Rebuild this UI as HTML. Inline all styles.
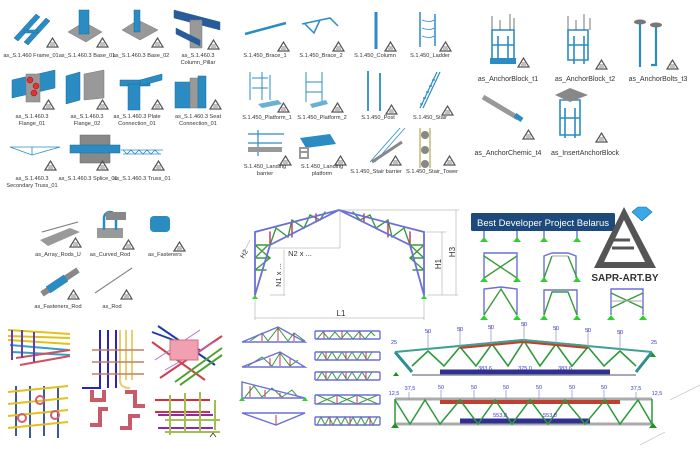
<!DOCTYPE html>
<html><head><meta charset="utf-8"><style>
html,body{margin:0;padding:0;background:#fff;width:700px;height:449px;overflow:hidden}
svg{display:block}
text{font-family:"Liberation Sans",sans-serif}
.l{font-size:5.6px;fill:#333;text-anchor:middle}
.n{font-size:5.5px;fill:#3838d0;text-anchor:middle}
</style></head><body>
<svg width="700" height="449" viewBox="0 0 700 449" xmlns="http://www.w3.org/2000/svg">
<defs>
<g id="tri"><path d="M0 9 L5.5 0 L11 9 Z" fill="none" stroke="#555" stroke-width="1.2"/><path d="M3.5 5 h4 M3 7 h5" stroke="#555" stroke-width="0.8"/></g>
</defs>
<!-- TOP LEFT GRID -->
<g fill="#2b8cc4" stroke="#1b6a9a" stroke-width="0.5">
<path d="M14 38 L36 14 L40 17 L18 41Z"/><path d="M24 42 L46 18 L50 21 L28 45Z"/><path d="M24 30 h14 v3 h-14z"/>
<path d="M68 32 L84 22 L102 32 L86 42Z" fill="#999" stroke="#777"/><rect x="79" y="10" width="10" height="24"/>
<path d="M122 30 L138 20 L158 30 L140 40Z" fill="#999" stroke="#777"/><rect x="134" y="10" width="6" height="22"/>
<path d="M174 10 L220 22 L220 30 L174 18Z" fill="#2a5a9a"/><rect x="190" y="20" width="12" height="28" fill="#999" stroke="#777"/><path d="M176 28 L200 40 L200 46 L176 34Z" fill="#2a5a9a"/>
<path d="M12 80 L55 70 L55 88 L12 98Z"/><rect x="26" y="74" width="14" height="28" fill="#999" stroke="#777"/>
<circle cx="30" cy="80" r="3" fill="#d33" stroke="#a00"/><circle cx="36" cy="86" r="3" fill="#d33" stroke="#a00"/><circle cx="34" cy="93" r="3" fill="#d33" stroke="#a00"/>
<path d="M66 76 L80 72 L80 100 L66 104Z"/><path d="M84 74 L104 70 L104 98 L84 100Z" fill="#999" stroke="#777"/>
<rect x="120" y="80" width="30" height="6"/><rect x="128" y="84" width="12" height="26"/><path d="M140 80 L162 74 L162 80 L140 86Z"/>
<rect x="175" y="82" width="16" height="26"/><rect x="190" y="78" width="8" height="30" fill="#999" stroke="#777"/><rect x="198" y="76" width="8" height="32"/>
<rect x="80" y="135" width="30" height="28" fill="#888" stroke="#666"/><rect x="70" y="145" width="50" height="8"/>
</g>
<g stroke="#2b8cc4" fill="none" stroke-width="0.8">
<path d="M10 147 h50 M10 147 L32 155 L60 147 M32 147 v8"/>
<path d="M121 150 h42 M123 154 h38 M123 150 l4 4 l4-4 l4 4 l4-4 l4 4 l4-4 l4 4 l4-4 l4 4"/>
</g>
<use href="#tri" x="47" y="38"/><use href="#tri" x="97" y="38"/><use href="#tri" x="152" y="38"/><use href="#tri" x="208" y="40"/>
<use href="#tri" x="43" y="100"/><use href="#tri" x="97" y="100"/><use href="#tri" x="152" y="100"/><use href="#tri" x="210" y="100"/>
<use href="#tri" x="45" y="161"/><use href="#tri" x="97" y="161"/><use href="#tri" x="153" y="161"/>
<text class="l" x="31" y="57">as_S.1.460 Frame_01</text>
<text class="l" x="87" y="57">as_S.1.460.3 Base_01</text>
<text class="l" x="141" y="57">as_S.1.460.3 Base_02</text>
<text class="l" x="198" y="57">as_S.1.460.3</text><text class="l" x="198" y="64">Column_Pillar</text>
<text class="l" x="32" y="118">as_S.1.460.3</text><text class="l" x="32" y="125">Flange_01</text>
<text class="l" x="87" y="118">as_S.1.460.3</text><text class="l" x="87" y="125">Flange_02</text>
<text class="l" x="137" y="118">as_S.1.460.3 Plate</text><text class="l" x="137" y="125">Connection_01</text>
<text class="l" x="198" y="118">as_S.1.460.3 Seat</text><text class="l" x="198" y="125">Connection_01</text>
<text class="l" x="32" y="180">as_S.1.460.3</text><text class="l" x="32" y="187">Secondary Truss_01</text>
<text class="l" x="88" y="180">as_S.1.460.3 Splice_01</text>
<text class="l" x="142" y="180">as_S.1.460.3 Truss_01</text>

<!-- TOP MIDDLE -->
<g stroke="#2b8cc4" stroke-width="2.5" fill="none">
<path d="M245 34 L286 23"/>
<path d="M302 24 L330 18 L338 26 M305 24 L314 33 L320 20" stroke-width="1.5"/>
<path d="M376 12 v37" stroke-width="3"/>
<path d="M420 12 v35 M435 14 v32" stroke-width="1.5"/><path d="M422 20 q8 3 12 0 M422 28 q8 3 12 0 M422 36 q8 3 12 0" stroke-width="0.8"/>
<path d="M250 72 v28 M262 72 v28 M270 75 v25 M252 78 h16 M252 88 h16" stroke-width="1"/>
<path d="M306 72 v30 M322 72 v30 M306 82 h16 M306 92 h16" stroke-width="1"/>
<path d="M368 71 v40 M380 73 v38" stroke-width="1.8"/>
<path d="M420 108 L437 72 M423 108 L440 72 M420 104 h3 M423 98 h3 M426 92 h3 M429 86 h3 M432 80 h3" stroke-width="1.2"/>
<path d="M248 134 h36 M258 130 v26 M248 143 h34" stroke-width="1.2"/>
<path d="M370 162 L400 128 M375 162 L405 128" stroke-width="0.8"/>
</g>
<path d="M258 104 L278 100 L282 104 L262 108Z" fill="#6ab0d6"/>
<path d="M310 104 L326 100 L328 104 L312 108Z" fill="#6ab0d6"/>
<rect x="248" y="147" width="34" height="5" fill="#999"/>
<path d="M300 138 L330 134 L336 144 L306 148Z" fill="#2b8cc4"/><path d="M300 148 h8 v10 h-8z M300 152 h8" fill="none" stroke="#999" stroke-width="2"/>
<path d="M372 162 L402 142" stroke="#888" stroke-width="3"/>
<path d="M420 128 v40 M430 128 v40" stroke="#aa9a30" stroke-width="1"/><circle cx="425" cy="135" r="4" fill="#888"/><circle cx="425" cy="150" r="4" fill="#888"/><circle cx="425" cy="164" r="4" fill="#888"/>
<use href="#tri" x="278" y="42"/><use href="#tri" x="333" y="42"/><use href="#tri" x="385" y="42"/><use href="#tri" x="440" y="42"/>
<use href="#tri" x="278" y="103"/><use href="#tri" x="332" y="103"/><use href="#tri" x="386" y="105"/><use href="#tri" x="442" y="106"/>
<use href="#tri" x="280" y="156"/><use href="#tri" x="335" y="156"/><use href="#tri" x="390" y="156"/><use href="#tri" x="444" y="156"/>
<text class="l" x="265" y="57">S.1.450_Brace_1</text><text class="l" x="321" y="57">S.1.450_Brace_2</text>
<text class="l" x="375" y="57">S.1.450_Column</text><text class="l" x="430" y="57">S.1.450_Ladder</text>
<text class="l" x="267" y="119">S.1.450_Platform_1</text><text class="l" x="322" y="119">S.1.450_Platform_2</text>
<text class="l" x="378" y="119">S.1.450_Post</text><text class="l" x="430" y="119">S.1.450_Stair</text>
<text class="l" x="265" y="168">S.1.450_Landing</text><text class="l" x="265" y="175">barrier</text>
<text class="l" x="322" y="168">S.1.450_Landing</text><text class="l" x="322" y="175">platform</text>
<text class="l" x="376" y="173">S.1.450_Stair barrier</text><text class="l" x="432" y="173">S.1.450_Stair_Tower</text>

<!-- TOP RIGHT -->
<g stroke="#2b8cc4" stroke-width="1.6" fill="none">
<path d="M492 30 h22 v30 h-22z M492 45 h22 M498 36 v28 M508 36 v28"/>
<path d="M568 30 h20 v30 h-20z M568 45 h20 M574 36 v28 M584 36 v28"/>
<path d="M640 22 v45 M656 25 v40 h-5" stroke-width="2.2"/>
<path d="M560 100 h20 v35 h-20z M560 118 h20 M565 108 v30 M575 108 v30"/>
</g>
<g stroke="#555" stroke-width="0.8"><path d="M492 16 v14 M500 20 v10 M510 14 v16 M514 18 v12 M568 16 v14 M576 20 v10 M584 14 v16 M590 18 v12"/></g>
<rect x="490" y="58" width="26" height="6" fill="#2b8cc4"/>
<ellipse cx="640" cy="22" rx="6" ry="2.5" fill="#777"/><ellipse cx="656" cy="25" rx="6" ry="2.5" fill="#777"/>
<path d="M483 97 L518 118" stroke="#999" stroke-width="5"/><path d="M515 115 L522 120" stroke="#2b8cc4" stroke-width="5"/>
<path d="M555 95 L570 88 L588 95 L570 102Z" fill="#888"/>
<use href="#tri" x="518" y="58"/><use href="#tri" x="596" y="60"/><use href="#tri" x="667" y="60"/>
<use href="#tri" x="523" y="130"/><use href="#tri" x="596" y="133"/>
<text class="l" x="508" y="81" style="font-size:7px">as_AnchorBlock_t1</text>
<text class="l" x="585" y="81" style="font-size:7px">as_AnchorBlock_t2</text>
<text class="l" x="658" y="81" style="font-size:7px">as_AnchorBolts_t3</text>
<text class="l" x="508" y="155" style="font-size:7px">as_AnchorChemic_t4</text>
<text class="l" x="585" y="155" style="font-size:7px">as_InsertAnchorBlock</text>

<!-- MIDDLE LEFT -->
<path d="M40 240 L70 228 L80 232 L48 246Z" fill="#999"/><path d="M42 232 L78 222" stroke="#777" stroke-width="1"/>
<rect x="97" y="228" width="26" height="10" fill="#999"/><path d="M104 230 v-12 a6 6 0 0 1 12 0 v12" fill="none" stroke="#2b8cc4" stroke-width="2.5"/><rect x="106" y="212" width="20" height="8" fill="#888"/>
<rect x="150" y="216" width="20" height="16" rx="4" fill="#2b8cc4"/>
<path d="M42 294 L78 270" stroke="#888" stroke-width="6"/><path d="M48 290 L66 278" stroke="#2b8cc4" stroke-width="8"/>
<path d="M95 293 L132 268" stroke="#888" stroke-width="1.2"/>
<use href="#tri" x="70" y="238"/><use href="#tri" x="123" y="240"/><use href="#tri" x="174" y="242"/>
<use href="#tri" x="68" y="290"/><use href="#tri" x="121" y="290"/>
<text class="l" x="58" y="256">as_Array_Rods_U</text><text class="l" x="110" y="256">as_Curved_Rod</text>
<text class="l" x="165" y="256">as_Fasteners</text><text class="l" x="58" y="308">as_Fasteners_Rod</text><text class="l" x="112" y="308">as_Rod</text>

<!-- REBAR TILES -->
<g stroke-width="2" fill="none">
<path d="M8 330 L70 334 M8 340 L70 344 M8 336 L70 338" stroke="#e0c21a"/>
<path d="M10 345 L68 350 M12 352 L70 355" stroke="#2fa0c8"/>
<path d="M16 358 L70 350 M20 365 L70 356" stroke="#d05060"/>
<path d="M12 330 v30 M22 330 v28 M34 332 v30" stroke="#6a3ab0"/>
<path d="M100 330 v58 h-18 M108 330 v58 M116 330 v58" stroke="#3020c0"/>
<path d="M120 330 v50 q0 8 10 8 M126 330 v50 M132 330 v50" stroke="#e8d070"/>
<path d="M92 350 h52 M92 362 h52 M92 374 h52" stroke="#c08060" stroke-width="1.4"/>
<path d="M152 332 L200 350 M158 326 L215 365" stroke="#2040a0"/>
<path d="M152 342 L205 380 M160 378 L222 336" stroke="#d04050"/>
<path d="M175 382 L222 348 M180 385 L222 355" stroke="#50a030"/>
<path d="M155 360 L200 330 M165 370 L218 340" stroke="#b070d0" stroke-width="1"/>
<rect x="170" y="340" width="28" height="20" fill="#f0a0b0" stroke="#d07080" stroke-width="1"/>
<path d="M16 386 v50 M30 386 v52 M44 386 v50 M58 386 v52" stroke="#3a5a9a"/>
<path d="M8 392 L68 386 M8 404 L68 398 M8 416 L68 410 M8 428 L68 422" stroke="#e0c21a"/>
<circle cx="40" cy="400" r="4" stroke="#d06070"/><circle cx="55" cy="415" r="4" stroke="#d06070"/><circle cx="22" cy="418" r="4" stroke="#d06070"/>
<path d="M92 390 v10 h12 v-10 M90 425 h10 v-16 h8 M125 392 h10 v14 h10 M120 428 h10 v-12 h10" stroke="#c85a6a" stroke-width="4"/>
<path d="M155 400 h55 M155 412 h55" stroke="#d03040"/><path d="M158 415 h55 M158 428 h55" stroke="#8a2ab0"/>
<path d="M165 420 h55 M165 432 h55" stroke="#a0c050"/>
<path d="M170 395 v40 M185 393 v40 M200 392 v40 M215 400 v30" stroke="#a0c050"/>
</g>
<path d="M210 437 l3 -4 l3 4" stroke="#333" fill="none" stroke-width="0.8"/>

<!-- PORTAL FRAME -->
<g fill="none" stroke-linecap="round">
<g stroke="#3a9a3a" stroke-width="1.4">
<path d="M255 245 h15 M255 258 h14 M255 270 h11 M255 245 L270 258 L255 270 M255 258 L268 245"/>
<path d="M410 245 h14 M411 258 h13 M413 270 h11 M424 245 L410 258 L424 270 M424 258 L410 245"/>
<path d="M270 245 L276 228 L288 237 L292 220 L304 228 L310 215 L320 220 L325 212"/>
<path d="M410 245 L404 228 L392 237 L388 220 L376 228 L370 215 L360 220 L353 212"/>
</g>
<g stroke="#c8305a" stroke-width="1.4"><path d="M270 232 v13 M292 222 v15 M316 214 v8 M410 232 v13 M388 222 v15 M364 214 v8"/></g>
<g stroke="#6b6fd8" stroke-width="1.8">
<path d="M255 295 V232 L339 210 L424 232 V295"/>
<path d="M255 295 L270 245 L339 210 L410 245 L424 295"/>
</g>
<g stroke="#999" stroke-width="0.5">
<path d="M339 210 h120 M426 232 h20 M442 232 v63 M456 210 v85 M428 295 h30 M255 300 v20 M424 300 v20 M255 318 h169 M270 248 h70 v-38 M284 250 v45 M270 295 h15 M250 240 l-6 12"/>
</g>
</g>
<path d="M252 299 l3 -4 l3 4z M421 299 l3 -4 l3 4z" fill="#30d030"/>
<text x="341" y="316" style="font-size:8px" fill="#333" text-anchor="middle">L1</text>
<text x="300" y="256" style="font-size:7.5px" fill="#333" text-anchor="middle">N2 x ...</text>
<text transform="translate(281,275) rotate(-90)" style="font-size:7.5px" fill="#333" text-anchor="middle">N1 x ...</text>
<text transform="translate(441,264) rotate(-90)" style="font-size:8px" fill="#333" text-anchor="middle">H1</text>
<text transform="translate(455,252) rotate(-90)" style="font-size:8px" fill="#333" text-anchor="middle">H3</text>
<text transform="translate(246,255) rotate(-60)" style="font-size:7px" fill="#333" text-anchor="middle">H2</text>

<!-- SMALL FRAMES -->
<g fill="none" stroke-width="1.4">
<g stroke="#6b6fd8"><path d="M484 278 v-25 h33 v25 M544 278 v-22 l8 -3 h16 l8 3 v22 M484 315 v-26 l17 -2 l16 2 v26 M544 315 v-25 h33 v25 M611 315 v-26 h32 v26 M484 238 v-10 M517 238 v-10 M544 238 v-10 M577 238 v-10"/></g>
<g stroke="#3a9a3a"><path d="M484 256 L517 278 M517 256 L484 278 M544 278 L552 256 M577 278 L568 256 M484 315 L501 289 L517 315 M544 315 L552 292 L568 292 L577 315 M611 293 L643 308 M643 293 L611 308"/></g>
<path d="M552 256 L568 256 M611 301 h32" stroke="#aaa" stroke-width="1"/>
</g>
<g fill="#30d030">
<path d="M480 242 l4 -5 l4 5z M513 242 l4 -5 l4 5z M540 242 l4 -5 l4 5z M573 242 l4 -5 l4 5z"/>
<path d="M480 282 l4 -5 l4 5z M513 282 l4 -5 l4 5z M540 282 l4 -5 l4 5z M573 282 l4 -5 l4 5z"/>
<path d="M480 320 l4 -5 l4 5z M513 320 l4 -5 l4 5z M540 320 l4 -5 l4 5z M573 320 l4 -5 l4 5z M607 320 l4 -5 l4 5z M639 320 l4 -5 l4 5z"/>
</g>
<rect x="471" y="213" width="144" height="18" rx="1.5" fill="#1d4a7a"/>
<text x="543" y="226" style="font-size:9.5px" fill="#fff" text-anchor="middle">Best Developer Project Belarus</text>
<path d="M624 207 L594 268 L656 268 Z M624 220 L604 262 L645 262Z" fill="#555" fill-rule="evenodd"/>
<path d="M610 240 h20 M612 248 h22" stroke="#555" stroke-width="3"/>
<path d="M632 212 l6 -5 h8 l6 5 l-10 9z" fill="#3aa8e8" stroke="#1a6aa0" stroke-width="0.6"/>
<text x="625" y="281" style="font-size:10px;font-weight:bold" fill="#333" text-anchor="middle">SAPR-ART.BY</text>

<!-- SMALL TRUSSES -->
<g fill="none" stroke-width="1">
<g stroke="#3a9a3a"><path d="M250 341 L262 333 L268 341 L278 328 L288 341 L294 333 L305 341 M248 366 L262 357 L272 366 L280 353 L290 366 L298 360 M245 397 L254 386 L262 397 L272 388 L282 397 L292 390 L298 397"/>
<path d="M317 339 l6 -7 l6 7 l6 -7 l6 7 l6 -7 l6 7 l6 -7 l6 7 l6 -7 l4 4"/><path d="M317 360 l5 -8 l5 8 l5 -8 l5 8 l5 -8 l5 8 l5 -8 l5 8 l5 -8 l5 8 l5 -8"/>
<path d="M317 380 l5 -8 l5 8 l5 -8 l5 8 l5 -8 l5 8 l5 -8 l5 8 l5 -8 l5 8 l5 -8"/>
<path d="M317 395 L337 404 M337 395 L317 404 M337 395 L357 404 M357 395 L337 404 M357 395 L378 404 M378 395 L357 404"/>
<path d="M317 425 l4 -8 l4 8 l4 -8 l4 8 l4 -8 l4 8 l4 -8 l4 8 l4 -8 l4 8 l4 -8 l4 8 l4 -8 l4 8 l4 -8"/></g>
<g stroke="#c8305a"><path d="M262 333 v8 M278 328 v13 M294 333 v8 M270 358 v8 M280 353 v13 M290 358 v8 M250 386 v11 M265 390 v7 M280 393 v4 M276 415 v10 M324 331 v8 M342 331 v8 M360 331 v8 M326 352 v8 M346 352 v8 M366 352 v8 M326 372 v8 M346 372 v8 M366 372 v8 M337 395 v9 M357 395 v9 M330 417 v8 M350 417 v8 M370 417 v8"/></g>
<g stroke="#6b6fd8" stroke-width="1.4"><path d="M242 342 L278 327 L305 342Z M242 367 L280 352 L305 367Z M242 398 L242 382 L305 398Z M242 413 L305 413 L276 425Z"/>
<path d="M315 331 h65 M315 339 h65 M315 331 v8 M380 331 v8 M315 352 h65 M315 360 h65 M315 352 v8 M380 352 v8 M315 372 h65 M315 380 h65 M315 372 v8 M380 372 v8 M315 395 h65 M315 404 h65 M315 395 v9 M380 395 v9 M315 417 h65 M315 425 h65 M315 417 v8 M380 417 v8"/></g>
</g>
<path d="M239 401 l3 -4 l3 4z M302 401 l3 -4 l3 4z" fill="#30d030"/>

<!-- BIG TRUSSES -->
<g fill="none">
<path d="M412 366 L428 351 L444 366 L460 347 L476 366 L492 344 L508 366 L524 341 L540 366 L556 344 L572 366 L588 347 L604 366 L620 351 L636 366" stroke="#2a9a3a" stroke-width="1.6"/>
<path d="M395 352 L412 372 M652 352 L636 372" stroke="#2a9090" stroke-width="3"/>
<path d="M460 347 L523 341 L588 347" stroke="#c04030" stroke-width="4"/>
<path d="M440 372 h170" stroke="#303090" stroke-width="5"/>
<path d="M395 352 L523 340 L652 352" stroke="#40a090" stroke-width="2"/>
<path d="M412 375 h224" stroke="#8a8aa0" stroke-width="1.5"/>
<path d="M395 399 h257 M395 424 h257" stroke="#aaa" stroke-width="3"/>
<path d="M440 402 h180" stroke="#c04030" stroke-width="4"/>
<path d="M460 421 h130" stroke="#303090" stroke-width="5"/>
<path d="M395 400 L410 424 L425 400 L440 424 L460 400 L478 424 L495 400 L512 424 L530 400 L548 424 L565 400 L585 424 L605 400 L620 424 L638 400 L652 424" stroke="#2a9a3a" stroke-width="1.5"/>
<path d="M395 399 v25 M652 399 v25" stroke="#2a9a3a" stroke-width="1.5"/>
<path d="M428 330 v20 M460 327 v20 M491 325 v19 M524 322 v19 M556 326 v18 M588 328 v19 M620 330 v20 M409 392 v8 M441 390 v10 M474 390 v10 M506 390 v10 M539 390 v10 M572 390 v10 M604 390 v10 M636 392 v8" stroke="#9a9ad0" stroke-width="0.8"/>
</g>
<path d="M393 376 l3 -4 l3 4z M650 357 l3 -4 l3 4z M391 428 l4 -5 l4 5z M649 428 l4 -5 l4 5z" fill="#209020"/>
<path d="M670 400 L700 385 M640 445 L665 432" stroke="#ccc" stroke-width="0.8"/>
<g class="n">
<text x="394" y="344">25</text><text x="428" y="333">50</text><text x="460" y="331">50</text><text x="491" y="329">50</text><text x="524" y="326">50</text><text x="556" y="330">50</text><text x="588" y="332">50</text><text x="620" y="334">50</text><text x="654" y="344">25</text>
<text x="394" y="395">12,5</text><text x="410" y="390">37,5</text><text x="441" y="389">50</text><text x="474" y="389">50</text><text x="506" y="389">50</text><text x="539" y="389">50</text><text x="572" y="389">50</text><text x="604" y="389">50</text><text x="636" y="390">37,5</text><text x="657" y="395">12,5</text>
<text x="485" y="370">383,6</text><text x="525" y="370">375,0</text><text x="565" y="370">383,6</text><text x="500" y="417">553,8</text><text x="550" y="417">553,8</text>
</g>
</svg>
</body></html>
